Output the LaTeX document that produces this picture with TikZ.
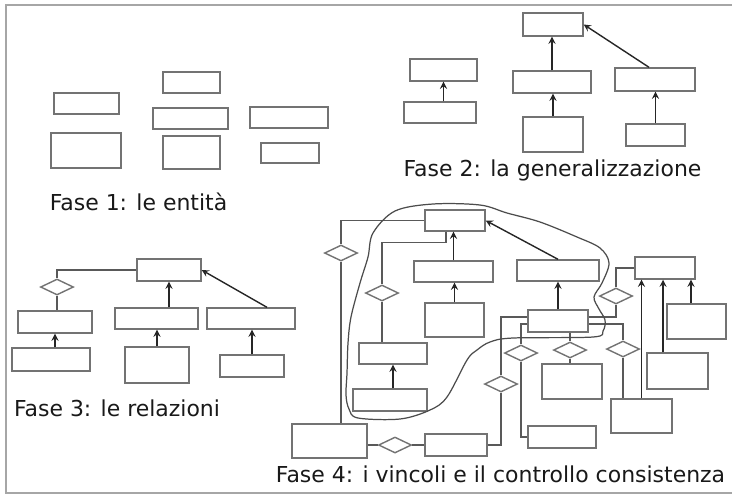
\documentclass[tikz,border=0pt]{standalone}
\usepackage{fontspec}
\setmainfont{DejaVu Sans}
\usepackage{tikz}
\usetikzlibrary{shapes.geometric, arrows}
\tikzstyle{entity} = [rectangle, draw=black!55, line width=0.8pt, inner sep=0pt, fill=white]
\tikzstyle{relation} = [diamond, draw=black!55, line width=0.8pt, inner sep=0pt, aspect=2, minimum width=0.66cm, minimum height=0.32cm, fill=white]
\tikzstyle{link} = [draw=black!65, line width=0.7pt]
\tikzstyle{arrow} = [draw=black!85, line width=0.8pt, ->, >=stealth]
\tikzstyle{phase} = [anchor=base, inner sep=0pt, font=\fontsize{12.5}{15}\selectfont, text=black!90]
\tikzstyle{frame} = [draw=black!35, line width=1.5pt]
\tikzstyle{outline} = [draw=black!70, line width=0.7pt]

\begin{document}
\begin{tikzpicture}[x=0.02cm, y=-0.02cm]
\useasboundingbox (0,0) rectangle (732,495);
\draw [frame] (732,5) -- (6,5) -- (6,493) -- (732,493);

% Fase 1
\node (e1a) [entity, minimum width=1.30cm, minimum height=0.42cm] at (86.5,103.5) {};
\node (e1b) [entity, minimum width=1.40cm, minimum height=0.70cm] at (86,150.5) {};
\node (e2a) [entity, minimum width=1.14cm, minimum height=0.42cm] at (191.5,82.5) {};
\node (e2b) [entity, minimum width=1.50cm, minimum height=0.42cm] at (190.5,118.5) {};
\node (e2c) [entity, minimum width=1.14cm, minimum height=0.66cm] at (191.5,152.5) {};
\node (e3a) [entity, minimum width=1.56cm, minimum height=0.42cm] at (289,117.5) {};
\node (e3b) [entity, minimum width=1.16cm, minimum height=0.40cm] at (290,153) {};
\node (lab1) [phase] at (138.5,210) {Fase 1: le entità};

% Fase 2
\node (g2top) [entity, minimum width=1.20cm, minimum height=0.46cm] at (553,24.5) {};
\node (g2l1) [entity, minimum width=1.34cm, minimum height=0.44cm] at (443.5,70) {};
\node (g2l2) [entity, minimum width=1.44cm, minimum height=0.42cm] at (440,112.5) {};
\node (g2m1) [entity, minimum width=1.56cm, minimum height=0.44cm] at (552,82) {};
\node (g2m2) [entity, minimum width=1.20cm, minimum height=0.70cm] at (553,134.5) {};
\node (g2r1) [entity, minimum width=1.60cm, minimum height=0.46cm] at (655,79.5) {};
\node (g2r2) [entity, minimum width=1.18cm, minimum height=0.44cm] at (655.5,135) {};
\node (lab2) [phase] at (552.5,176) {Fase 2: la generalizzazione};

\draw [arrow] (g2l1.south |- g2l2.north) -- (g2l1.south);
\draw [arrow] (g2m2.north) -- (g2m2.north |- g2m1.south);
\draw [arrow] (g2m1.north) -- (g2m1.north |- g2top.south);
\draw [arrow] (g2r2.north) -- (g2r2.north |- g2r1.south);
\draw [arrow] ([xshift=-0.12cm]g2r1.north) -- (g2top.east);

% Fase 3
\node (r3top) [entity, minimum width=1.28cm, minimum height=0.44cm] at (169,270) {};
\node (r3rel) [relation] at (57,287) {};
\node (r3a1) [entity, minimum width=1.48cm, minimum height=0.44cm] at (55,322) {};
\node (r3a2) [entity, minimum width=1.56cm, minimum height=0.46cm] at (51,359.5) {};
\node (r3b1) [entity, minimum width=1.66cm, minimum height=0.42cm] at (156.5,318.5) {};
\node (r3b2) [entity, minimum width=1.28cm, minimum height=0.72cm] at (157,365) {};
\node (r3c1) [entity, minimum width=1.76cm, minimum height=0.42cm] at (251,318.5) {};
\node (r3c2) [entity, minimum width=1.28cm, minimum height=0.44cm] at (252,366) {};
\node (lab3) [phase] at (117,416) {Fase 3: le relazioni};

\draw [link] (r3top.west) -| (r3rel.north);
\draw [link] (r3rel.south) -- (r3rel.south |- r3a1.north);
\draw [arrow] (r3a1.south |- r3a2.north) -- (r3a1.south);
\draw [arrow] (r3top.south |- r3b1.north) -- (r3top.south);
\draw [arrow] (r3b2.north) -- (r3b2.north |- r3b1.south);
\draw [arrow] ([xshift=0.32cm]r3c1.north) -- (r3top.east);
\draw [arrow] (r3c2.north) -- (r3c2.north |- r3c1.south);

% Fase 4
\node (f4root) [entity, minimum width=1.20cm, minimum height=0.42cm] at (455,220.5) {};
\node (f4spec) [entity, minimum width=1.58cm, minimum height=0.42cm] at (453.5,271.5) {};
\node (f4leaf) [entity, minimum width=1.18cm, minimum height=0.68cm] at (454.5,320) {};
\node (f4left) [entity, minimum width=1.36cm, minimum height=0.42cm] at (393,353.5) {};
\node (f4leftsub) [entity, minimum width=1.48cm, minimum height=0.44cm] at (390,400) {};
\node (f4corner) [entity, minimum width=1.50cm, minimum height=0.68cm] at (329.5,441) {};
\node (f4bottom) [entity, minimum width=1.24cm, minimum height=0.44cm] at (456,445) {};
\node (f4spec2) [entity, minimum width=1.64cm, minimum height=0.42cm] at (558,270.5) {};
\node (f4hub) [entity, minimum width=1.20cm, minimum height=0.44cm] at (558,321) {};
\node (f4gen) [entity, minimum width=1.20cm, minimum height=0.44cm] at (665,268) {};
\node (f4gen1) [entity, minimum width=1.18cm, minimum height=0.70cm] at (696.5,321.5) {};
\node (f4gen2) [entity, minimum width=1.22cm, minimum height=0.72cm] at (677.5,371) {};
\node (f4gen3) [entity, minimum width=1.22cm, minimum height=0.68cm] at (641.5,416) {};
\node (f4sub) [entity, minimum width=1.20cm, minimum height=0.70cm] at (572,381.5) {};
\node (f4sub2) [entity, minimum width=1.36cm, minimum height=0.44cm] at (562,437) {};

\node (rel1) [relation] at (341,253) {};
\node (rel2) [relation] at (382,293) {};
\node (rel3) [relation] at (395,445) {};
\node (rel4) [relation] at (501,384) {};
\node (rel5) [relation] at (521,353) {};
\node (rel6) [relation] at (570,350) {};
\node (rel7) [relation] at (623,349) {};
\node (rel8) [relation] at (616,296) {};

\node (lab4) [phase] at (500.5,482) {Fase 4: i vincoli e il controllo consistenza};

\coordinate (g2in) at ([xshift=-0.29cm]f4gen2.north);
\coordinate (g1in) at ([xshift=-0.11cm]f4gen1.north);

\draw [link] (f4root.west) -| (rel1.north);
\draw [link] (rel1.south) -- (rel1.south |- f4corner.north);
\draw [link] ([xshift=-0.18cm]f4root.south) -- ++(0,-0.22cm) -| (rel2.north);
\draw [link] (rel2.south) -- (rel2.south |- f4left.north);
\draw [link] (f4corner.east |- rel3) -- (rel3.west);
\draw [link] (rel3.east) -- (f4bottom.west);
\draw [link] (f4bottom.east) -| (rel4.south);
\draw [link] (rel4.north) |- ([yshift=0.08cm]f4hub.west);
\draw [link] ([yshift=-0.06cm]f4hub.west) -| (rel5.north);
\draw [link] (rel5.south) |- (f4sub2.west);
\draw [link] (rel6.north |- f4hub.south) -- (rel6.north);
\draw [link] (rel6.south) -- (rel6.south |- f4sub.north);
\draw [link] ([yshift=-0.06cm]f4hub.east) -| (rel7.north);
\draw [link] (rel7.south) -- (rel7.south |- f4gen3.north);
\draw [link] ([yshift=0.08cm]f4hub.east) -| (rel8.south);
\draw [link] (rel8.north) |- (f4gen.west);

\draw [arrow] (f4spec.north) -- (f4spec.north |- f4root.south);
\draw [arrow] (f4leaf.north) -- (f4leaf.north |- f4spec.south);
\draw [arrow] (f4left.south |- f4leftsub.north) -- (f4left.south);
\draw [arrow] (f4hub.north) -- (f4hub.north |- f4spec2.south);
\draw [arrow] (f4spec2.north) -- (f4root.east);
\draw [arrow] (f4gen3.north) -- (f4gen3.north |- f4gen.south);
\draw [arrow] (g2in) -- (g2in |- f4gen.south);
\draw [arrow] (g1in) -- (g1in |- f4gen.south);

% consistency check
\draw [outline] plot [smooth cycle, tension=0.55] coordinates {
  (433,204) (480,205) (507,213) (540,222) (577,237) (600,248) (609,263)
  (602,283) (594,297) (599,309) (605,320) (603,331) (593,337) (513,338)
  (490,342) (477,350) (467,360) (447,397) (430,410) (400,419) (358,418)
  (349,409) (346,395) (347,373) (348,343) (351,317) (360,283) (368,257)
  (373,233) (395,211)};

\end{tikzpicture}
\end{document}
